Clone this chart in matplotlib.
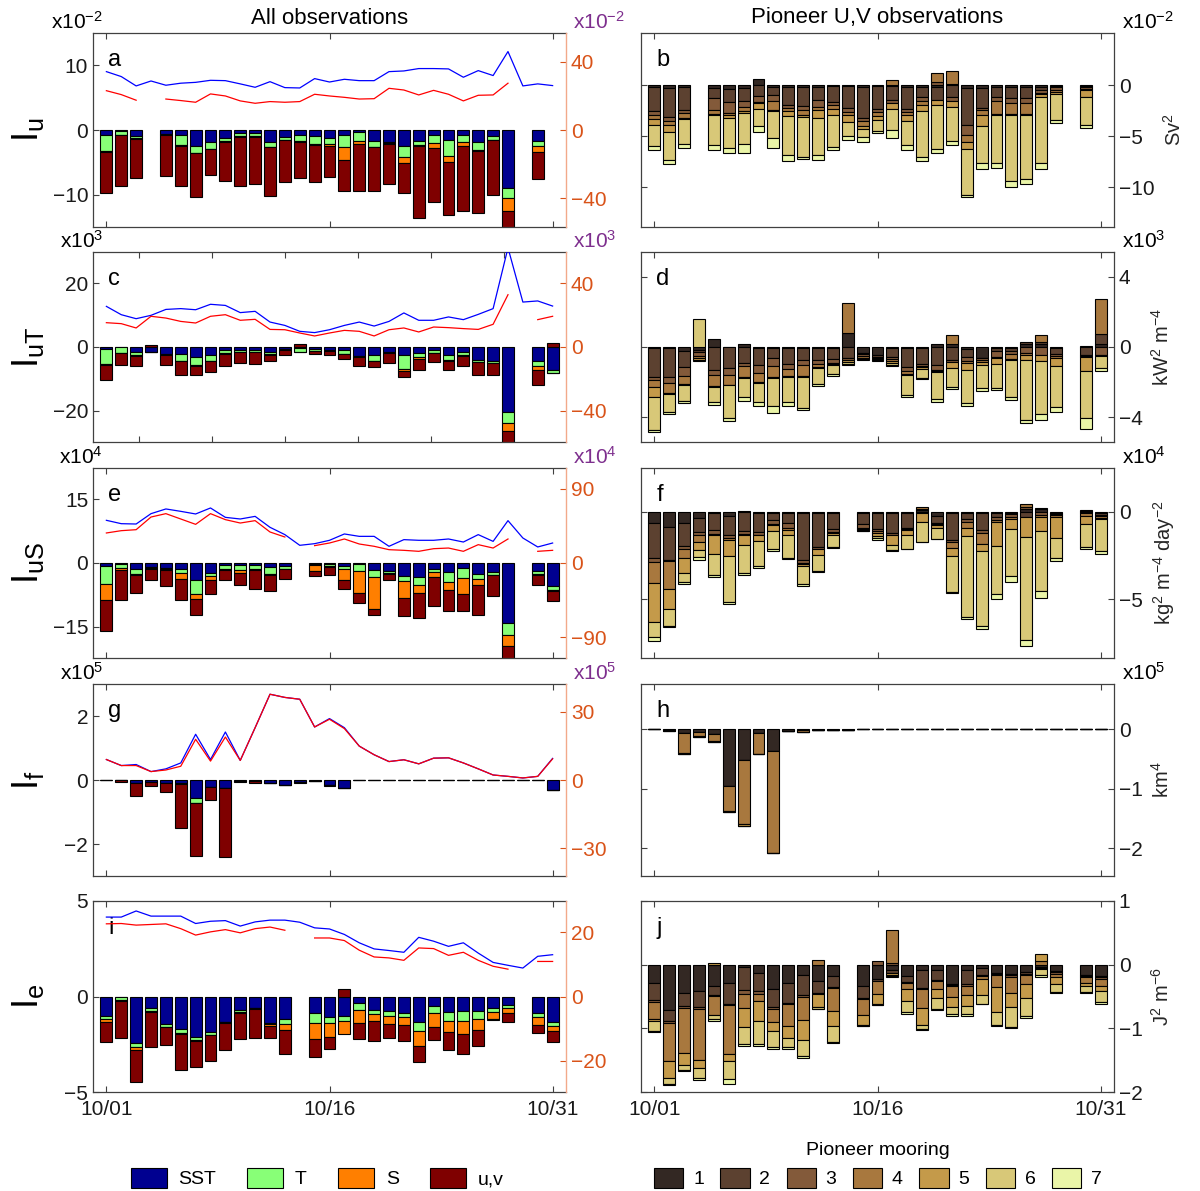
import numpy as np
import matplotlib.pyplot as plt
from matplotlib.patches import Patch

nan = np.nan
days = np.arange(31)
date_ticks = [0, 15, 30]
date_labels = ['10/01', '10/16', '10/31']

# ---- left column: contributions of SST, T, S, u,v (stacked) + lines on right axis
# panel a (x10^-2)
a_sst = [-0.8, -0.15, -0.9, nan, -0.6, -0.8, -2.4, -1.8, -1.2, -0.4, -0.5, -1.8, -1.1, -0.8, -1.0, -1.2,
         -0.8, -0.25, -1.7, -1.8, -2.4, -1.65, -0.7, -1.55, -0.7, -1.8, -1.0, -9.0, nan, -1.65, nan]
a_t = [-2.4, -0.6, -0.4, nan, -0.1, -1.5, -1.1, -1.1, -0.5, -0.6, -0.5, -0.8, -0.4, -0.9, -1.1, -1.0,
       -1.9, -1.45, -0.9, -0.25, -1.7, -0.7, -1.3, -2.4, -1.1, -1.3, -0.5, -1.5, nan, -0.9, nan]
a_s = [-0.2, -0.05, -0.1, nan, -0.05, -0.1, -0.1, -0.1, -0.1, -0.05, -0.05, -0.1, -0.05, -0.1, -0.15, -0.2,
       -1.9, -0.5, -0.1, -0.05, -1.0, -0.1, -0.8, -1.0, -0.6, -0.1, -0.1, -2.1, nan, -0.8, nan]
a_uv = [-6.4, -7.9, -6.1, nan, -6.3, -6.3, -6.8, -4.0, -6.1, -7.55, -7.35, -7.5, -6.55, -5.6, -5.85, -4.8,
        -4.8, -7.3, -6.7, -6.3, -4.7, -11.15, -8.3, -8.25, -10.1, -9.7, -8.5, -3.9, nan, -4.25, nan]
a_blue = [34.3, 31.4, 25.9, 28.8, 26.3, 27.5, 28.0, 29.2, 29.0, 27.1, 25.1, 28.4, 24.9, 24.7, 30.2, 28.2,
          29.8, 29.0, 29.0, 34.3, 34.7, 36.1, 36.1, 35.9, 31.0, 34.9, 32.0, 46.1, 25.9, 27.1, 26.1]
a_red = [23.1, 20.8, 17.5, nan, 18.2, 17.3, 16.3, 21.2, 20.0, 17.1, 15.7, 16.7, 16.3, 16.7, 21.0, 20.0,
         19.2, 18.2, 18.4, 24.5, 23.5, 20.6, 23.3, 21.0, 17.1, 20.4, 20.6, 27.5, nan, nan, nan]

# panel c (x10^3)
c_sst = [-0.7, -0.1, -1.6, -1.5, -2.3, -2.1, -3.1, -2.6, -1.0, -0.8, -0.8, -1.6, -0.5, -0.2, -0.5, -1.0,
         -1.0, -2.9, -2.6, -1.6, -2.6, -1.9, -1.0, -2.6, -1.6, -4.2, -4.5, -20.3, nan, -4.4, -7.3]
c_t = [-4.7, -1.7, -1.0, 0.0, -0.1, -2.3, -2.6, -1.8, -1.0, -0.7, -0.7, -0.7, -0.2, -1.3, -0.7, -0.1,
       -1.2, -0.1, -1.8, -0.2, -4.2, -1.2, -0.8, -1.6, -1.0, -0.5, -0.5, -3.4, nan, -1.4, -0.7]
c_s = [-0.1, -0.1, -0.1, 0.0, -0.1, -0.1, -0.1, -0.1, -0.1, -0.05, -0.05, -0.05, -0.1, 0.0, 0.0, -0.05,
       -0.1, -0.1, -0.1, -0.1, -0.8, -0.5, -0.1, -0.1, -0.1, -0.1, -0.1, -2.5, nan, -1.3, -0.1]
c_uv = [-4.9, -3.8, -3.2, 0.7, -3.0, -4.1, -2.8, -3.3, -3.8, -3.35, -3.65, -2.15, -1.8, 1.0, -1.0, -1.25,
        -1.3, -2.8, -1.8, -3.2, -1.8, -3.5, -2.8, -2.8, -3.2, -4.1, -3.8, -4.8, nan, -4.9, 1.3]
c_blue = [25.4, 20.2, 17.7, 19.8, 23.5, 24.0, 23.3, 26.7, 26.0, 21.5, 22.3, 15.6, 13.5, 9.8, 9.0, 10.8,
          13.5, 15.6, 13.1, 16.0, 21.3, 16.7, 16.7, 18.8, 17.1, 20.4, 24.0, 62.0, 28.1, 28.8, 25.6]
c_red = [15.2, 14.6, 11.9, 19.2, 18.1, 16.0, 15.0, 19.2, 20.2, 16.7, 17.3, 11.0, 10.8, 8.75, 6.9, 8.75,
         10.4, 9.8, 6.9, 10.8, 11.9, 9.4, 12.5, 12.1, 11.5, 11.0, 14.2, 32.7, nan, 17.1, 19.2]

# panel e (x10^4)
e_sst = [-0.6, -0.15, -1.3, -0.9, -1.25, -1.3, -4.1, -2.35, -0.55, -0.4, -0.55, -1.0, -0.8, nan, -0.25, -0.3,
         -0.6, -0.25, -1.55, -1.95, -3.0, -3.35, -1.3, -2.2, -1.15, -2.6, -2.1, -14.2, nan, -1.95, -5.3]
e_t = [-4.3, -1.0, -1.2, -0.2, -0.1, -1.0, -3.1, -0.8, -0.8, -1.3, -0.85, -1.55, -0.55, nan, -0.3, -0.3,
       -0.8, -1.7, -1.8, -0.4, -1.2, -1.9, -0.85, -2.25, -2.35, -1.15, -0.6, -2.7, nan, -0.55, -0.95]
e_s = [-3.8, -0.55, -0.2, -0.2, -0.2, -1.4, -1.3, -0.8, -0.2, -0.6, -0.3, -0.2, -0.1, nan, -1.4, -0.3,
       -2.5, -5.2, -7.4, -0.2, -3.9, -1.8, -1.15, -1.8, -3.75, -1.35, -0.2, -2.6, nan, -0.3, -0.35]
e_uv = [-7.3, -7.05, -4.3, -2.8, -3.75, -5.1, -3.6, -3.25, -2.55, -2.8, -4.3, -3.75, -2.25, nan, -1.15, -2.0,
        -2.2, -2.25, -1.55, -1.55, -4.4, -5.85, -6.7, -5.05, -4.05, -7.2, -4.75, -4.0, nan, -2.3, -2.4]
e_blue = [51.9, 47.8, 47.4, 60.0, 65.7, 62.8, 59.6, 66.9, 55.5, 53.5, 56.7, 43.4, 34.5, 21.5, 23.5, 27.6,
          35.3, 32.4, 32.4, 20.3, 28.4, 27.6, 27.6, 29.2, 25.5, 34.5, 26.3, 51.5, 30.4, 19.5, 24.3]
e_red = [36.5, 39.3, 40.5, 55.9, 60.0, 53.5, 47.0, 60.0, 52.7, 48.6, 51.5, 37.7, 31.6, nan, 21.1, 24.3,
         29.2, 23.1, 20.3, 16.2, 15.4, 14.2, 17.4, 18.2, 14.2, 22.3, 18.2, 29.2, nan, 14.2, 15.4]

# panel g (x10^5)
g_sst = [-0.005, -0.01, -0.1, -0.05, -0.1, -0.1, -0.55, -0.23, -0.25, -0.03, -0.02, -0.1, -0.15, -0.05, -0.02, -0.15,
         -0.25, -0.005, -0.005, -0.005, -0.005, -0.005, -0.005, -0.005, -0.005, -0.005, -0.005, -0.005, -0.005, -0.005, -0.3]
g_t = [0.0, 0.0, 0.0, 0.0, 0.0, -0.02, -0.16, 0.0, 0.0, 0.0, 0.0, 0.0, 0.0, 0.0, 0.0, 0.0,
       0.0, 0.0, 0.0, 0.0, 0.0, 0.0, 0.0, 0.0, 0.0, 0.0, 0.0, 0.0, 0.0, 0.0, 0.0]
g_s = [0.0, 0.0, 0.0, 0.0, 0.0, 0.0, 0.0, 0.0, 0.0, 0.0, 0.0, 0.0, 0.0, 0.0, 0.0, -0.02,
       0.0, 0.0, 0.0, 0.0, 0.0, 0.0, 0.0, 0.0, 0.0, 0.0, 0.0, 0.0, 0.0, 0.0, 0.0]
g_uv = [0.0, -0.04, -0.4, -0.13, -0.26, -1.38, -1.68, -0.4, -2.15, -0.04, -0.08, 0.0, 0.0, -0.05, -0.01, -0.03,
        0.0, 0.0, 0.0, 0.0, 0.0, 0.0, 0.0, 0.0, 0.0, 0.0, 0.0, 0.0, 0.0, 0.0, 0.0]
g_blue = [9.0, 6.35, 6.8, 3.7, 4.9, 7.5, 20.1, 9.0, 21.1, 8.6, 23.0, 37.7, 36.3, 35.5, 23.3, 27.0,
          23.0, 14.9, 11.1, 8.1, 8.9, 7.1, 9.6, 9.75, 7.5, 4.9, 2.2, 1.6, 0.9, 1.6, 9.5]
g_red = [9.0, 6.35, 6.35, 3.7, 4.4, 6.05, 17.9, 8.3, 18.9, 8.6, 23.0, 37.7, 36.3, 35.5, 23.3, 26.7,
         22.6, 14.9, 11.1, 8.1, 8.9, 7.1, 9.6, 9.75, 7.5, 4.9, 2.2, 1.6, 0.9, 1.6, 9.3]

# panel i
i_sst = [-1.0, -0.02, -2.46, -0.61, -1.46, -1.72, -2.1, -1.84, -1.32, -0.7, -0.58, -1.4, -1.18, nan, -0.88, -1.05,
         -1.02, -0.32, -0.7, -0.74, -0.84, -1.32, -0.49, -0.82, -0.74, -0.74, -0.61, -0.44, nan, -0.84, -1.32]
i_t = [-0.18, -0.14, -0.2, -0.14, -0.12, -0.17, -0.18, -0.17, -0.03, -0.09, -0.04, -0.02, -0.26, nan, -0.53, -0.35,
       -0.25, -0.39, -0.23, -0.28, -0.25, -0.47, -0.39, -0.44, -0.53, -0.44, -0.18, -0.18, nan, -0.21, -0.21]
i_s = [-0.17, -0.08, -0.14, -0.05, -0.03, -0.05, -0.05, -0.03, -0.03, -0.05, -0.05, -0.1, -0.32, nan, -0.79, -0.74,
       -0.7, -0.67, -0.35, -0.42, -0.4, -0.79, -0.74, -0.58, -0.7, -0.58, -0.4, -0.26, nan, -0.44, -0.26]
i_uv = [-1.05, -1.92, -1.67, -1.87, -0.93, -1.92, -1.35, -1.35, -1.43, -1.41, -1.52, -0.64, -1.26, nan, -0.96, -0.61,
        0.39, -0.83, -1.05, -0.75, -0.83, -0.84, -0.66, -0.96, -1.02, -0.82, -0.02, -0.44, nan, -0.44, -0.61]
i_blue = [24.7, 24.7, 26.6, 25.0, 25.0, 25.0, 22.7, 23.4, 23.6, 21.9, 23.2, 23.75, 23.75, 23.1, 21.35, 21.0,
          19.3, 16.7, 14.8, 14.3, 13.75, 18.4, 17.2, 15.6, 16.7, 13.5, 10.6, 9.7, 8.85, 12.5, 13.0]
i_red = [22.6, 22.7, 22.2, 22.4, 22.6, 21.1, 19.1, 20.1, 20.8, 19.8, 21.1, 21.6, 20.6, nan, 18.2, 18.2,
         17.4, 14.4, 12.3, 12.0, 11.25, 15.1, 14.9, 12.8, 13.75, 11.25, 9.4, 8.5, nan, 10.9, 10.9]

# ---- right column: Pioneer moorings 1..7 (stacked)
# panel b (x10^-2)
b1 = [-0.23, -0.3, -0.2, nan, -0.3, -0.4, -0.3, 0.6, -0.2, -0.15, -0.2, -0.15, -0.1, -0.1, -0.2, -0.1,
      -0.1, -0.2, -0.2, -0.2, 0.1, -0.3, -0.3, -0.2, -0.2, -0.15, -0.15, -0.1, nan, -0.1, nan]
b2 = [-2.3, -2.85, -2.2, nan, -1.0, -1.25, -1.3, -1.1, -0.75, -1.8, -1.85, -1.3, -1.55, -2.1, -3.0, -2.2,
      -1.4, -2.1, -1.0, -1.3, -1.2, -3.6, -1.9, -1.0, -1.1, -1.1, -0.3, -0.1, nan, -0.05, nan]
b3 = [-0.4, -0.4, -0.3, nan, -1.1, -1.1, -0.55, -0.55, -0.65, -0.3, -0.4, -0.65, -0.3, -0.4, -0.3, -0.3,
      -0.3, -0.3, -0.4, 0.3, -0.4, -1.0, -0.25, -0.4, -0.5, -0.55, -0.35, -0.3, nan, -0.2, nan]
b4 = [-0.4, -0.4, -0.5, nan, -0.4, -0.2, -0.4, -0.15, -0.8, -0.25, -0.5, -0.3, -0.35, -0.3, -0.5, -0.4,
      0.5, -0.3, -0.4, 0.9, 1.3, -0.7, -0.5, -1.2, -1.0, -1.05, -0.1, -0.2, nan, -0.1, nan]
b5 = [-0.55, -0.6, -0.1, nan, -0.1, -0.3, -0.2, -0.5, -0.1, -0.55, -0.15, -0.8, -0.65, -0.75, -0.3, -0.4,
      -0.5, -0.6, -0.5, -0.5, -0.5, -0.65, -1.1, -0.1, -0.1, -0.1, -0.25, -0.2, nan, -0.75, nan]
b6 = [-2.1, -2.8, -2.5, nan, -2.95, -2.9, -3.0, -1.75, -2.7, -3.8, -3.9, -3.6, -3.1, -1.3, -0.8, -1.1,
      -2.1, -2.4, -4.5, -4.3, -3.4, -4.5, -3.6, -4.7, -6.45, -6.2, -6.5, -2.55, nan, -2.7, nan]
b7 = [-0.4, -0.4, -0.4, nan, -0.5, -0.55, -0.95, -0.55, -1.0, -0.55, -0.25, -0.5, -0.3, -0.45, -0.5, -0.2,
      -0.8, -0.45, -0.4, -0.4, -0.4, -0.25, -0.6, -0.55, -0.65, -0.55, -0.6, -0.3, nan, -0.3, nan]

# panel d (x10^3)
d1 = [-0.05, -0.05, -0.22, -0.15, 0.45, -0.02, 0.15, -0.05, -0.05, -0.05, -0.05, -0.05, -0.05, 0.8, -0.35, -0.45,
      -0.05, -0.05, -0.05, 0.15, 0.15, -0.1, -0.6, -0.05, -0.05, 0.15, 0.15, -0.05, nan, 0.05, 0.15]
d2 = [-1.65, -1.65, -0.9, -0.15, -1.3, -1.17, -0.9, -1.0, -0.6, -0.9, -0.7, -0.7, -0.65, -0.62, -0.05, -0.1,
      -0.5, -1.1, -0.9, -1.05, -0.75, -0.45, -0.05, -0.2, -0.15, 0.15, 0.15, -0.35, nan, -0.45, 0.6]
d3 = [-0.2, -0.35, -0.5, -0.2, -0.3, -0.4, -0.2, -0.42, -0.42, -0.3, -0.3, -0.2, -0.2, -0.1, -0.1, -0.05,
      -0.15, -0.2, -0.15, -0.25, -0.1, -0.25, -0.1, -0.3, -0.2, -0.35, -0.45, -0.1, nan, -0.05, -0.45]
d4 = [-0.35, -0.55, -0.5, -0.15, -0.6, -0.55, -0.6, -0.53, -0.66, -0.42, -0.6, -0.2, -0.05, 1.7, -0.1, -0.05,
      -0.1, -0.2, -0.05, -0.05, 0.55, -0.1, -0.1, -0.05, -0.3, -0.1, 0.36, -0.1, nan, -0.05, 2.0]
d5 = [-0.6, -0.05, -0.05, -0.1, -0.05, -0.02, -0.05, -0.05, -0.05, -0.05, -0.05, -0.05, -0.1, -0.12, -0.05, -0.05,
      -0.1, -0.05, -0.1, -0.05, -0.35, -0.4, -0.15, -0.35, -0.05, -0.3, -0.35, -0.5, nan, -0.8, -0.05]
d6 = [-1.85, -1.05, -0.92, 1.6, -0.9, -1.9, -1.07, -1.07, -1.6, -1.4, -1.75, -0.9, -0.5, -0.1, -0.05, -0.02,
      -0.1, -1.1, -0.5, -1.55, -1.1, -1.9, -1.35, -1.4, -2.1, -3.4, -3.0, -2.3, nan, -2.7, -0.7]
d7 = [-0.15, -0.1, -0.1, -0.05, -0.15, -0.17, -0.25, -0.25, -0.38, -0.25, -0.15, -0.1, -0.1, -0.06, -0.05, -0.05,
      -0.1, -0.15, -0.05, -0.15, -0.1, -0.15, -0.15, -0.1, -0.15, -0.15, -0.35, -0.3, nan, -0.6, -0.15]

# panel f (x10^4)
f1 = [-0.62, -0.85, -0.62, -0.38, -0.05, -0.25, 0.05, -0.05, -0.05, -0.05, -0.05, -0.05, -0.05, nan, -0.05, -0.05,
      -0.05, -0.05, 0.08, -0.25, -0.05, -0.05, -0.05, -0.05, -0.05, 0.15, 0.15, -0.05, nan, 0.05, -0.05]
f2 = [-2.0, -1.9, -1.35, -0.8, -1.0, -1.1, -1.1, -1.1, -0.4, -0.6, -2.7, -1.95, -0.95, nan, -0.65, -0.95,
      -1.15, -0.85, -0.05, -0.38, -1.55, -0.35, -1.0, -0.25, -0.05, -0.3, 0.05, -0.05, nan, -0.05, -0.15]
f3 = [-0.25, -0.05, -0.15, -0.15, -0.2, -0.15, -0.15, -0.15, -0.22, -0.3, -0.15, -0.1, -0.15, nan, -0.2, -0.1,
      -0.1, -0.1, 0.1, -0.05, -0.15, -0.2, -0.15, -0.15, -0.2, 0.15, -0.2, -0.1, nan, 0.05, -0.05]
f4 = [-1.2, -1.6, -0.5, -0.38, -0.1, -0.1, -0.05, -0.05, -0.1, -0.1, -0.1, -0.05, -0.05, nan, -0.1, -0.1,
      -0.05, -0.05, 0.1, -0.05, -0.3, -0.35, -0.65, -0.12, -0.1, 0.17, -0.1, -0.1, nan, -0.2, -0.1]
f5 = [-2.2, -1.15, -0.85, -0.45, -1.05, -0.95, -0.6, -0.3, -0.3, -0.3, -0.1, -0.3, -0.1, nan, -0.05, -0.2,
      -0.55, -0.3, -0.55, -0.2, -0.45, -0.45, -0.4, -1.4, -0.6, -1.15, -0.8, -1.2, nan, -0.45, -0.05]
f6 = [-0.9, -1.0, -0.55, -0.42, -1.2, -2.6, -1.6, -1.45, -1.05, -1.3, -1.05, -0.95, -0.7, nan, -0.02, -0.12,
      -0.3, -0.75, -1.1, -0.6, -2.1, -4.6, -4.25, -2.75, -2.65, -5.9, -3.45, -1.15, nan, -1.3, -1.85]
f7 = [-0.2, -0.05, -0.13, -0.15, -0.15, -0.1, -0.1, -0.1, -0.13, -0.05, -0.1, -0.05, -0.05, nan, -0.03, -0.08,
      -0.05, -0.05, -0.05, -0.05, -0.05, -0.1, -0.2, -0.25, -0.35, -0.3, -0.35, -0.15, nan, -0.1, -0.15]

# panel h (x10^5)
h1 = [-0.005, -0.02, -0.07, -0.04, -0.085, -0.95, -0.52, -0.07, -0.36, -0.03, -0.01, -0.02, -0.02, -0.01, -0.005, -0.005,
      -0.005, -0.005, -0.005, -0.005, -0.005, -0.005, -0.005, -0.005, -0.005, -0.005, -0.005, -0.005, -0.005, -0.005, -0.005]
h2 = [0.0, 0.0, 0.0, 0.0, 0.0, 0.0, 0.0, 0.0, 0.0, 0.0, 0.0, 0.0, 0.0, 0.0, 0.0, 0.0,
      0.0, 0.0, 0.0, 0.0, 0.0, 0.0, 0.0, 0.0, 0.0, 0.0, 0.0, 0.0, 0.0, 0.0, 0.0]
h3 = h2
h4 = [0.0, 0.0, -0.33, -0.07, -0.11, -0.43, -1.08, -0.34, -1.72, 0.0, -0.04, 0.0, 0.0, 0.0, 0.0, 0.0,
      0.0, 0.0, 0.0, 0.0, 0.0, 0.0, 0.0, 0.0, 0.0, 0.0, 0.0, 0.0, 0.0, 0.0, 0.0]
h5 = [0.0, -0.01, -0.01, -0.02, -0.02, -0.01, -0.03, -0.01, -0.01, 0.0, 0.0, 0.0, 0.0, 0.0, 0.0, 0.0,
      0.0, 0.0, 0.0, 0.0, 0.0, 0.0, 0.0, 0.0, 0.0, 0.0, 0.0, 0.0, 0.0, 0.0, 0.0]
h6 = h2
h7 = h2

# panel j
j1 = [-0.29, -0.71, -0.45, -0.42, -0.33, -0.29, -0.04, -0.13, -0.39, -0.29, -0.16, -0.26, -0.18, nan, -0.34, -0.23,
      -0.08, -0.18, -0.09, -0.08, -0.3, -0.09, -0.05, -0.13, -0.15, -0.12, -0.03, -0.1, nan, -0.16, -0.18]
j2 = [-0.27, -0.18, -0.2, -0.25, -0.14, -0.32, -0.36, -0.29, -0.28, -0.31, -0.32, -0.18, -0.17, nan, -0.18, -0.02,
      -0.05, -0.09, -0.28, -0.16, -0.02, -0.22, -0.11, -0.02, -0.02, -0.02, -0.02, -0.02, nan, -0.02, -0.02]
j3 = [-0.02, -0.02, -0.03, -0.02, -0.02, -0.02, -0.06, -0.04, -0.02, -0.02, -0.02, -0.02, -0.02, nan, -0.02, 0.05,
      0.02, -0.02, -0.02, -0.02, -0.02, -0.02, -0.02, -0.02, -0.02, -0.02, -0.02, -0.02, nan, -0.02, -0.02]
j4 = [-0.28, -0.6, -0.71, -0.8, -0.3, -0.77, -0.22, -0.11, -0.21, -0.35, -0.37, 0.07, -0.35, nan, -0.25, -0.21,
      0.53, -0.09, -0.29, -0.13, -0.17, -0.14, -0.04, -0.18, -0.26, -0.14, 0.05, -0.06, nan, -0.09, -0.12]
j5 = [-0.02, -0.27, -0.18, -0.13, 0.03, -0.12, -0.3, -0.32, -0.14, -0.18, -0.32, -0.21, -0.25, nan, -0.16, -0.16,
      -0.03, -0.19, -0.26, -0.14, -0.16, -0.18, -0.25, -0.4, -0.21, -0.23, 0.12, -0.1, nan, -0.04, -0.08]
j6 = [-0.16, -0.09, -0.08, -0.16, -0.07, -0.28, -0.26, -0.36, -0.26, -0.15, -0.25, -0.02, -0.24, nan, -0.01, -0.01,
      -0.02, -0.18, -0.07, -0.16, -0.11, -0.13, -0.14, -0.19, -0.32, -0.28, -0.1, -0.13, nan, -0.1, -0.17]
j7 = [-0.02, -0.02, -0.02, -0.03, -0.02, -0.07, -0.04, -0.03, -0.02, -0.02, -0.02, -0.01, -0.02, nan, -0.01, -0.01,
      -0.02, -0.02, -0.02, -0.02, -0.02, -0.02, -0.01, -0.02, -0.02, -0.03, -0.02, -0.01, nan, -0.02, -0.02]

var_names = ['SST', 'T', 'S', 'u,v']
var_colors = ['#000090', '#88ff77', '#ff7f00', '#7f0000']
moor_names = ['1', '2', '3', '4', '5', '6', '7']
moor_colors = ['#332823', '#5c4130', '#835a3a', '#a8783e', '#c49a4a', '#d8c878', '#eaf5a8']

plt.rcParams['font.family'] = ['Liberation Sans', 'DejaVu Sans']
plt.rcParams['mathtext.fontset'] = 'custom'
plt.rcParams['mathtext.rm'] = 'Liberation Sans'
plt.rcParams['mathtext.it'] = 'Liberation Sans'
AX_COL = '#404040'
ORANGE = '#d95319'
PURPLE = '#7e2f8e'

fig = plt.figure(figsize=(12, 11.91), dpi=100)


def stack_bars(ax, parts, colors, width=0.8):
    pos = np.zeros(31)
    neg = np.zeros(31)
    for vals, col in zip(parts, colors):
        v = np.asarray(vals, float)
        ok = ~np.isnan(v)
        base = np.where(v > 0, pos, neg)
        ax.bar(days[ok], v[ok], width, bottom=base[ok], color=col,
               edgecolor='black', linewidth=0.8, zorder=2)
        pos = pos + np.where(ok & (v > 0), v, 0)
        neg = neg + np.where(ok & (v < 0), v, 0)


def style_axes(ax, bottom_row):
    for sp in ax.spines.values():
        sp.set_color(AX_COL)
        sp.set_linewidth(0.9)
    ax.set_xlim(-0.9, 30.9)
    ax.set_xticks(date_ticks)
    ax.tick_params(axis='both', direction='in', length=4, width=0.8, color=AX_COL,
                   labelsize=15, top=True, labelcolor='#1a1a1a')
    if bottom_row:
        ax.set_xticklabels(date_labels)
        ax.tick_params(axis='x', pad=6)
    else:
        ax.set_xticklabels([])


# axes geometry in pixels: (top, bottom) for each row
rows = [(33, 227), (252, 442), (468, 658), (684, 876), (901, 1092)]
W, H = 1200, 1191
left_x, right_x, ax_w = 93, 641, 473

left_panels = [
    ('a', [a_sst, a_t, a_s, a_uv], a_blue, a_red, (-15, 15), [-10, 0, 10], (-57, 57), [-40, 0, 40],
     r'$\mathregular{I_u}$', r'x10$^{-2}$'),
    ('c', [c_sst, c_t, c_s, c_uv], c_blue, c_red, (-29.7, 29.7), [-20, 0, 20], (-59.4, 59.4), [-40, 0, 40],
     r'$\mathregular{I_{uT}}$', r'x10$^{3}$'),
    ('e', [e_sst, e_t, e_s, e_uv], e_blue, e_red, (-22.3, 22.3), [-15, 0, 15], (-115.5, 115.5), [-90, 0, 90],
     r'$\mathregular{I_{uS}}$', r'x10$^{4}$'),
    ('g', [g_sst, g_t, g_s, g_uv], g_blue, g_red, (-3, 3), [-2, 0, 2], (-42.2, 42.2), [-30, 0, 30],
     r'$\mathregular{I_f}$', r'x10$^{5}$'),
    ('i', [i_sst, i_t, i_s, i_uv], i_blue, i_red, (-5, 5), [-5, 0, 5], (-29.7, 29.7), [-20, 0, 20],
     r'$\mathregular{I_e}$', None),
]

right_panels = [
    ('b', [b1, b2, b3, b4, b5, b6, b7], (-13.9, 5.1), [-10, -5, 0], r'Sv$^2$', r'x10$^{-2}$'),
    ('d', [d1, d2, d3, d4, d5, d6, d7], (-5.4, 5.4), [-4, 0, 4], r'kW$^2$ m$^{-4}$', r'x10$^{3}$'),
    ('f', [f1, f2, f3, f4, f5, f6, f7], (-8.35, 2.5), [-5, 0], r'kg$^2$ m$^{-4}$ day$^{-2}$', r'x10$^{4}$'),
    ('h', [h1, h2, h3, h4, h5, h6, h7], (-2.47, 0.76), [-2, -1, 0], r'km$^4$', r'x10$^{5}$'),
    ('j', [j1, j2, j3, j4, j5, j6, j7], (-2, 1), [-2, -1, 0, 1], r'J$^2$ m$^{-6}$', None),
]

for r, (top, bot) in enumerate(rows):
    rect_y = 1 - bot / H
    rect_h = (bot - top) / H
    last = r == len(rows) - 1

    # left column
    letter, parts, blue, red, ylim, yt, ylim2, yt2, ylab, expo = left_panels[r]
    ax = fig.add_axes([left_x / W, rect_y, ax_w / W, rect_h])
    stack_bars(ax, parts, var_colors)
    ax.set_ylim(*ylim)
    ax.set_yticks(yt)
    style_axes(ax, last)
    ax.tick_params(axis='y', right=False)
    ax.spines['right'].set_visible(False)
    ax.set_ylabel(ylab, fontsize=26, labelpad=2)
    ax.yaxis.set_label_coords(-0.1, 0.5)
    ax.text(0.032, 0.86, letter, transform=ax.transAxes, fontsize=17, va='center')
    if expo:
        ax.text(0.021, 1.0, expo, transform=ax.transAxes, fontsize=15, ha='right', va='bottom')
    if letter == 'c':
        ax.set_xticks([2.2, 7.1, 12.0, 16.9, 21.8, 26.7])
        ax.set_xticklabels([])

    tw = ax.twinx()
    tw.plot(days, blue, color='#0000ff', lw=0.9, zorder=3)
    tw.plot(days, red, color='#ff0000', lw=0.9, zorder=3)
    tw.set_ylim(*ylim2)
    tw.set_yticks(yt2)
    tw.set_xlim(-0.9, 30.9)
    for name, sp in tw.spines.items():
        sp.set_visible(name == 'right')
    tw.spines['right'].set_color('#f2a98a')
    tw.spines['right'].set_linewidth(1.0)
    tw.tick_params(axis='y', direction='in', length=4, width=0.8, color=ORANGE,
                   labelcolor=ORANGE, labelsize=15)
    if expo:
        tw.text(1.015, 1.0, expo, transform=tw.transAxes, fontsize=15, ha='left', va='bottom',
                color=PURPLE)

    # right column
    letter, parts, ylim, yt, unit, expo = right_panels[r]
    ax = fig.add_axes([right_x / W, rect_y, ax_w / W, rect_h])
    stack_bars(ax, parts, moor_colors)
    ax.set_ylim(*ylim)
    ax.set_yticks(yt)
    style_axes(ax, last)
    ax.tick_params(axis='y', left=True, right=True, labelleft=False, labelright=True)
    ax.yaxis.set_label_position('right')
    ax.set_ylabel(unit, fontsize=14.5, labelpad=6, color='#262626')
    ax.text(0.032, 0.86, letter, transform=ax.transAxes, fontsize=17, va='center')
    if expo:
        ax.text(1.017, 1.0, expo, transform=ax.transAxes, fontsize=15, ha='left', va='bottom')
    if last:
        ax.set_xlabel('Pioneer mooring', fontsize=14, labelpad=16)

# column titles
fig.text(330 / W, 1 - 18 / H, 'All observations', fontsize=16, ha='center', va='center')
fig.text(877 / W, 1 - 18 / H, 'Pioneer U,V observations', fontsize=16, ha='center', va='center')

# legends
var_handles = [Patch(facecolor=c, edgecolor='black', linewidth=0.8) for c in var_colors]
fig.legend(var_handles, var_names, loc='center', bbox_to_anchor=(317 / W, 1 - 1178 / H), ncol=4,
           frameon=False, fontsize=14, handlelength=1.85, handleheight=1.2, handletextpad=0.6,
           columnspacing=1.6)
moor_handles = [Patch(facecolor=c, edgecolor='black', linewidth=0.8) for c in moor_colors]
fig.legend(moor_handles, moor_names, loc='center', bbox_to_anchor=(878 / W, 1 - 1178 / H), ncol=7,
           frameon=False, fontsize=14, handlelength=1.5, handleheight=1.2, handletextpad=0.5,
           columnspacing=0.85)

fig.savefig('out.png', dpi=100)
